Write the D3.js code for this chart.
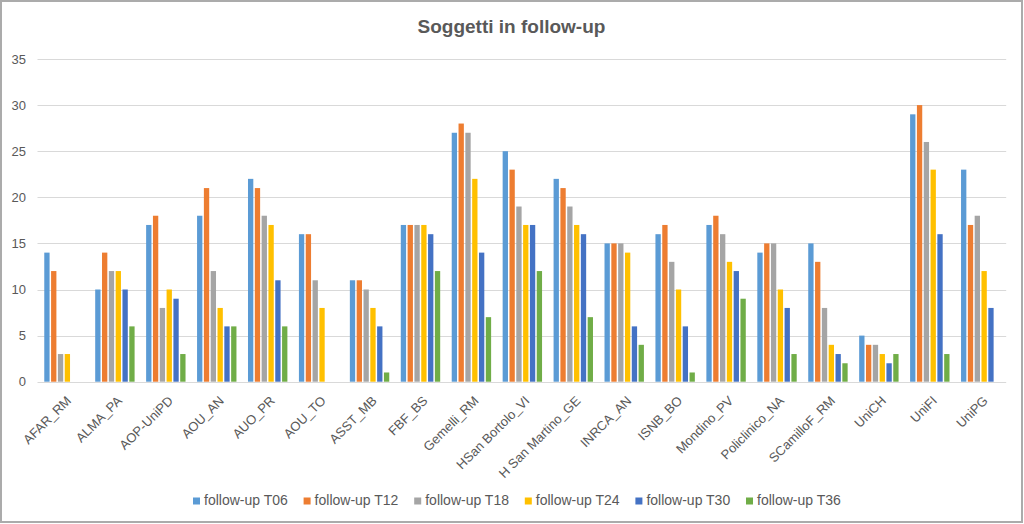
<!DOCTYPE html>
<html>
<head>
<meta charset="utf-8">
<script src="https://cdn.jsdelivr.net/npm/d3@7/dist/d3.min.js"></script>
<style>
  html, body { margin: 0; padding: 0; background: #fff; }
  svg { display: block; font-family: "Liberation Sans", Arial, sans-serif; }
</style>
</head>
<body>
<svg id="chart" width="1024" height="524"></svg>
<script>
const title = "Soggetti in follow-up";
const categories = ["AFAR_RM","ALMA_PA","AOP-UniPD","AOU_AN","AUO_PR","AOU_TO","ASST_MB","FBF_BS","Gemelli_RM","HSan Bortolo_VI","H San Martino_GE","INRCA_AN","ISNB_BO","Mondino_PV","Policlinico_NA","SCamilloF_RM","UniCH","UniFI","UniPG"];
const seriesNames = ["follow-up T06","follow-up T12","follow-up T18","follow-up T24","follow-up T30","follow-up T36"];
const T06 = [14,10,17,18,22,16,11,17,27,25,22,15,16,17,14,15,5,29,23];
const T12 = [12,14,18,21,21,16,11,17,28,23,21,15,17,18,15,13,4,30,17];
const T18 = [3,12,8,12,18,11,10,17,27,19,19,15,13,16,15,8,4,26,18];
const T24 = [3,12,10,8,17,8,8,17,22,17,17,14,10,13,10,4,3,23,12];
const T30 = [0,10,9,6,11,0,6,16,14,17,16,6,6,12,8,3,2,16,8];
const T36 = [0,6,3,6,6,0,1,12,7,12,7,4,1,9,3,2,3,3,0];
const seriesValues = [T06,T12,T18,T24,T30,T36];
const colors = ["#5B9BD5","#ED7D31","#A5A5A5","#FFC000","#4472C4","#70AD47"];
const yTicks = [0,5,10,15,20,25,30,35];

const svg = d3.select("#chart");
const textColor = "#595959";

// outer border
svg.append("rect").attr("x",1).attr("y",1).attr("width",1021).attr("height",521)
  .attr("fill","#fff").attr("stroke","#ABABAB").attr("stroke-width",2);

const plot = {left: 38.5, right: 1006.2, top: 59, bottom: 381.7};

const x0 = d3.scaleBand().domain(categories).range([plot.left, plot.right]).padding(0);
const groupW = 39.4;
const x1 = d3.scaleBand().domain(d3.range(seriesNames.length)).range([0, groupW]).paddingInner(0.22).paddingOuter(0);
const y = d3.scaleLinear().domain([0,35]).range([plot.bottom, plot.top]);

// gridlines
svg.append("g").selectAll("line").data(yTicks).join("line")
  .attr("x1", plot.left - 1).attr("x2", plot.right)
  .attr("y1", d => Math.round(y(d)) + 0.5).attr("y2", d => Math.round(y(d)) + 0.5)
  .attr("stroke", "#D9D9D9").attr("stroke-width", 1);

// y tick labels
svg.append("g").selectAll("text").data(yTicks).join("text")
  .attr("x", 26).attr("y", d => y(d)).attr("dy","0.35em")
  .attr("text-anchor","end").attr("font-size", 13).attr("fill", textColor)
  .text(d => d);

// bars
const groups = svg.append("g").selectAll("g").data(categories).join("g")
  .attr("transform", c => `translate(${x0(c) + (x0.bandwidth() - groupW)/2},0)`);
groups.selectAll("rect").data((c, i) => seriesValues.map((s, j) => ({j, v: s[i]})))
  .join("rect")
  .attr("x", d => x1(d.j))
  .attr("width", x1.bandwidth())
  .attr("y", d => y(d.v))
  .attr("height", d => y(0) - y(d.v))
  .attr("fill", d => colors[d.j]);

// x labels
svg.append("g").selectAll("text").data(categories).join("text")
  .attr("transform", c => `translate(${x0(c) + x0.bandwidth()/2 + 8},401.5) rotate(-45)`)
  .attr("text-anchor","end").attr("font-size",13).attr("fill",textColor)
  .text(c => c);

// title
svg.append("text").attr("x", 511.5).attr("y", 33).attr("text-anchor","middle")
  .attr("font-size", 19).attr("font-weight","bold").attr("fill", textColor).text(title);

// legend
const legX = d3.scaleLinear().domain([0, 1]).range([193, 193 + 110.6]);
const leg = svg.append("g").selectAll("g").data(seriesNames).join("g")
  .attr("transform", (d, i) => `translate(${legX(i)},497.5)`);
leg.append("rect").attr("width",7).attr("height",7).attr("fill",(d,i)=>colors[i]);
leg.append("text").attr("x", 11).attr("y", 7.5).attr("font-size",14).attr("fill",textColor).text(d => d);
</script>
</body>
</html>
